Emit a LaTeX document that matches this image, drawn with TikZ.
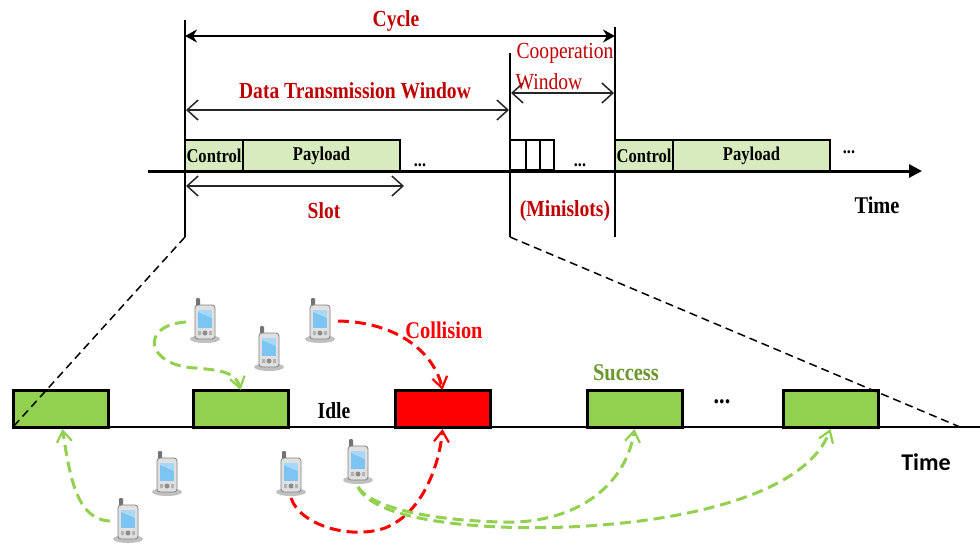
\documentclass[tikz,border=0pt]{standalone}
\usepackage{fontspec}
\setmainfont{Liberation Serif}[FakeStretch=0.85]
\setsansfont{Carlito}
\usetikzlibrary{arrows.meta,calc}
\definecolor{lgreen}{HTML}{D7EBBF}
\definecolor{mgreen}{HTML}{92D050}
\definecolor{dred}{HTML}{C00000}
\definecolor{sgreen}{HTML}{6A962E}
\definecolor{scr}{HTML}{7CC4F2}
\tikzset{
  lab/.style={font=\bfseries\fontsize{23}{25}\selectfont,inner sep=0pt,text=dred},
  blk/.style={font=\bfseries\fontsize{19}{22}\selectfont,inner sep=0pt,text=black},
  cell/.style={draw=black,line width=2pt,fill=lgreen,minimum height=31pt,anchor=south west,inner sep=0pt,outer sep=0pt,font=\bfseries\fontsize{19.5}{21}\selectfont},
  mini/.style={draw=black,line width=1.5pt,fill=white,minimum height=30pt,anchor=south west,inner sep=0pt,outer sep=0pt},
  slotbox/.style={draw=black,line width=3pt,minimum width=95pt,minimum height=37pt,anchor=south west,inner sep=0pt,outer sep=0pt},
  open/.style={line width=1.5pt,black!85,{Straight Barb[length=11pt,width=20pt,line width=1.5pt]}-{Straight Barb[length=11pt,width=20pt,line width=1.5pt]}},
  guide/.style={line width=2.4pt,black},
  zoomline/.style={line width=1.5pt,black,dash pattern=on 8pt off 5pt},
  green arc/.style={line width=3pt,mgreen,dash pattern=on 11pt off 6pt,-{Straight Barb[length=11pt,width=15pt,line width=2.2pt]}},
  red arc/.style={line width=3pt,red,dash pattern=on 11pt off 6pt,-{Straight Barb[length=11pt,width=15pt,line width=2.2pt]}},
  phonebox/.style={minimum width=30pt,minimum height=44pt,inner sep=0pt,outer sep=0pt},
  phone/.pic={
    \fill[black!35,opacity=.7] (0,19) ellipse[x radius=15pt,y radius=4pt];
    \fill[black!55,rounded corners=1pt] (-9,-22) rectangle (-5,-12);
    \draw[black!50,line width=.8pt,fill=black!12,rounded corners=3pt] (-10,-15) rectangle (10,19);
    \fill[scr] (-7,-10) rectangle (7,8);
    \fill[white,opacity=.35] (-7,-10) -- (7,-10) -- (7,-2) -- (-7,-8) -- cycle;
    \fill[black!45] (0,13) circle[radius=2.5pt];
    \fill[black!30] (-7,11) rectangle (-4,15) (4,11) rectangle (7,15);
  }
}
\newcommand{\phoneat}[2]{\node[phonebox] (#1) at (#2) {}; \pic at (#2) {phone};}
\begin{document}
\begin{tikzpicture}[x=1pt,y=-1pt]
\useasboundingbox (0,0) rectangle (980,544);
\fill[white] (0,0) rectangle (980,544);

% upper frame
\coordinate (axL) at (148,171);
\coordinate (axR) at (922,171);
\coordinate (a1) at (185,20);  \coordinate (a2) at (185,237);
\coordinate (b1) at (510,53);  \coordinate (b2) at (510,237);
\coordinate (c1) at (615,27);  \coordinate (c2) at (615,237);

\node[cell,minimum width=58pt] (ctl1) at (185,171) {Control};
\node[cell,minimum width=157pt] (pay1) at (243,171) {Payload};
\node[cell,minimum width=58pt] (ctl2) at (615,171) {Control};
\node[cell,minimum width=157pt] (pay2) at (673,171) {Payload};
\node[mini,minimum width=16pt] (m1) at (510,170) {};
\node[mini,minimum width=14pt] (m2) at (526,170) {};
\node[mini,minimum width=14pt] (m3) at (540,170) {};

\draw[line width=3pt,-{Triangle[length=13pt,width=13pt]}] (axL) -- (axR);
\draw[guide] (a1) -- (a2);
\draw[guide] (b1) -- (b2);
\draw[guide] (c1) -- (c2);
\draw[line width=2.6pt,{Stealth[length=12pt,width=13pt]}-{Stealth[length=12pt,width=13pt]}] (a1 |- 0,36) -- (c1 |- 0,36);
\draw[open] (186,110) -- (509,110);
\draw[open] (511,93) -- (614,93);
\draw[open] (186,186) -- (404,186);

\node[lab] (cycle) at (396,21) {Cycle};
\node[lab] (dtw) at (355,91) {Data Transmission Window};
\node[lab,font=\fontsize{23}{25}\selectfont\mdseries] (coop) at (565,53) {Cooperation};
\node[lab,font=\fontsize{23}{25}\selectfont\mdseries] (win) at (549,82) {Window};
\node[lab] (slotl) at (324,211) {Slot};
\node[lab] (minis) at (565,211) {(Minislots)};
\node[blk] (d1) at (420,165) {...};
\node[blk] (d2) at (580,165) {...};
\node[blk] (d3) at (849,152) {...};
\node[blk,font=\bfseries\fontsize{24}{26}\selectfont] (t1) at (877,205) {Time};

% lower frame
\node[slotbox,fill=mgreen] (s1) at (13,427) {};
\node[slotbox,fill=mgreen] (s2) at (193,427) {};
\node[slotbox,fill=red] (s3) at (395,427) {};
\node[slotbox,fill=mgreen] (s4) at (587,427) {};
\node[slotbox,fill=mgreen] (s5) at (783,427) {};
\coordinate (axL2) at (13,427);
\coordinate (axR2) at (992,427);
\draw[line width=2pt,-{Triangle[length=12pt,width=12pt]}] (axL2) -- (axR2);
\coordinate (z1) at (960,427);

\draw[zoomline] (a2) -- (axL2);
\draw[zoomline] (b2) -- (z1);

\node[blk,font=\bfseries\fontsize{23}{25}\selectfont] (idle) at (334,411) {Idle};
\node[lab,text=red,font=\bfseries\fontsize{24}{26}\selectfont] (coll) at (444,330) {Collision};
\node[lab,text=sgreen,font=\bfseries\fontsize{24}{26}\selectfont] (succ) at (626,373) {Success};
\node[font=\bfseries\fontsize{26}{26}\selectfont,inner sep=0pt] (d4) at (722,402) {...};
\node[font=\sffamily\bfseries\fontsize{24}{26}\selectfont,inner sep=0pt] (t2) at (926,462) {Time};

% phones
\phoneat{p1}{205,320}
\phoneat{p2}{320,320}
\phoneat{p3}{269,348}
\phoneat{p4}{167,473}
\phoneat{p5}{291,473}
\phoneat{p6}{358,461}
\phoneat{p7}{128,520}

% arcs
\draw[green arc] ($(p7.west)+(-3,1)$) .. controls (78,520) and (70,480) .. ($(s1.south)+(2,2)$);
\draw[green arc] ($(p1.west)+(-4,2)$) .. controls (140,325) and (145,365) .. (195,368) .. controls (220,370) and (236,372) .. (s2.north);
\draw[red arc] ($(p2.east)+(3,1)$) .. controls (400,322) and (435,355) .. (s3.north);
\draw[red arc] ($(p5.south)+(0,3)$) .. controls (300,525) and (350,540) .. (385,528) .. controls (425,512) and (440,460) .. ($(s3.south)+(0,2)$);
\draw[green arc] ($(p6.south)+(0,4)$) .. controls (372,508) and (430,520) .. (500,522) .. controls (570,525) and (625,490) .. ($(s4.south)+(0,2)$);
\draw[green arc] ($(p6.south)+(0,4)$) .. controls (370,512) and (430,524) .. (500,527) .. controls (620,532) and (800,510) .. ($(s5.south)+(0,2)$);
\end{tikzpicture}
\end{document}
